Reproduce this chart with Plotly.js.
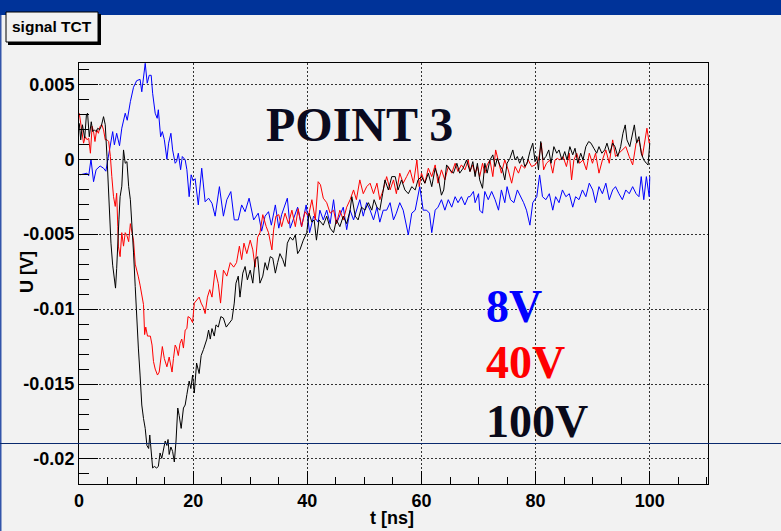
<!DOCTYPE html>
<html>
<head>
<meta charset="utf-8">
<script src="https://cdn.plot.ly/plotly-3.0.1.min.js"></script>
<style>html,body{margin:0;padding:0;background:#f2f2f2;overflow:hidden}#chart{width:781px;height:531px}</style>
</head>
<body>
<div id="chart"></div>
<script>
// ---- data (time in ns, signal in mV) ----
const t8 = [0.2,1.4,1.7,2.1,2.55,3.0,3.7,4.3,4.7,5.1,5.5,5.9,6.2,6.6,7.1,7.5,8.1,8.45,9.0,9.55,10.1,10.7,11.0,11.6,11.95,12.3,12.65,12.9,13.35,13.7,13.9,14.3,14.6,14.95,15.4,15.7,16.1,16.4,16.85,17.1,17.4,17.8,18.1,18.6,18.9,19.3,19.65,20.0,20.35,20.9,21.5,22.1,22.7,23.3,23.85,24.6,25.3,25.9,26.6,27.2,27.9,28.5,29.1,29.8,30.6,31.4,32.0,32.6,33.2,33.7,34.4,35.0,35.5,36.5,37.0,37.7,38.3,39.0,39.8,40.4,41.1,41.9,42.2,42.8,43.4,44.0,44.6,45.1,45.7,46.3,46.9,47.5,48.1,48.6,49.2,49.8,50.4,51.0,51.6,52.2,52.7,53.3,53.9,54.5,55.1,55.6,56.2,56.8,57.3,57.7,58.3,58.9,59.7,60.3,60.9,61.4,61.8,62.4,62.9,63.5,64.1,64.7,65.3,65.9,66.4,67.0,67.6,68.2,68.5,69.1,69.4,70.0,70.2,70.7,71.1,71.7,72.3,72.9,73.5,74.0,74.6,75.0,75.6,76.2,76.8,77.4,77.9,78.4,79.0,79.5,80.2,80.7,81.2,81.8,82.4,83.0,83.5,84.1,84.7,85.3,85.9,86.5,87.0,87.6,88.2,88.8,89.4,90.0,90.5,91.1,91.7,92.3,92.9,93.5,94.0,94.6,95.2,95.8,96.4,97.0,97.6,98.1,98.5,98.95,99.4,99.9,100.0];
const u8mV = [-1.04,-0.93,-1.1,0.0,-1.5,-0.7,-0.45,-0.6,-0.8,0.07,1.07,1.84,0.96,1.73,0.9,2.07,3.07,2.6,3.84,4.8,5.24,5.33,4.5,6.4,5.07,5.6,5.6,4.4,3.07,2.73,3.3,1.5,1.84,1.3,0.0,1.07,1.73,0.62,-0.27,-0.15,0.4,-0.7,0.18,-0.04,-0.7,-2.5,-1.04,-1.45,-1.3,-3.05,-0.6,-2.84,-2.6,-2.94,-3.8,-1.83,-3.8,-2.7,-2.16,-4.05,-4.05,-3.05,-3.5,-2.6,-4.05,-3.6,-4.8,-3.8,-3.5,-4.4,-3.05,-4.6,-3.7,-2.6,-4.6,-3.8,-3.2,-4.5,-3.05,-4.9,-3.8,-4.2,-3.4,-4.05,-3.4,-4.3,-2.7,-4.3,-3.7,-3.2,-4.7,-3.4,-4.05,-3.4,-2.7,-3.8,-2.9,-3.4,-4.05,-3.2,-4.2,-3.4,-3.4,-2.9,-4.05,-3.6,-2.9,-3.4,-4.3,-5.05,-3.6,-3.4,-1.83,-3.4,-3.4,-3.6,-4.9,-3.4,-3.2,-2.7,-3.4,-2.7,-3.2,-2.5,-2.9,-2.5,-3.05,-2.5,-2.5,-2.15,-2.9,-2.3,-3.4,-3.6,-2.15,-2.7,-2.15,-2.7,-3.4,-2.05,-2.9,-1.83,-2.7,-2.9,-2.05,-2.5,-2.9,-3.4,-4.4,-2.9,-2.5,-1.05,-2.5,-2.7,-2.3,-3.4,-2.5,-2.9,-2.05,-2.5,-2.3,-3.2,-2.5,-2.7,-2.05,-2.5,-1.6,-2.05,-2.9,-1.83,-2.3,-1.6,-2.7,-2.05,-1.83,-2.3,-2.7,-2.05,-2.3,-1.83,-2.3,-2.5,-1.16,-2.7,-1.16,-2.5,-1.16];

const t40 = [0.05,0.4,0.8,1.1,1.4,1.7,2.0,2.3,2.55,2.8,3.1,3.4,3.7,4.0,4.3,4.6,4.9,5.2,5.5,5.75,6.05,6.35,6.6,6.8,6.9,7.2,7.5,7.8,8.1,8.4,8.7,9.0,9.3,9.55,9.85,10.1,10.4,10.7,11.0,11.3,11.5,11.7,12.0,12.5,12.8,13.05,13.35,13.75,14.05,14.4,14.6,14.95,15.4,15.8,16.3,16.55,16.85,17.1,17.4,17.7,18.0,18.3,18.6,18.9,19.1,19.5,19.9,20.2,20.6,21.05,21.4,21.8,22.1,22.5,22.9,23.3,23.85,24.4,24.8,25.3,25.9,26.5,27.1,27.6,28.1,28.5,28.9,29.4,30.0,30.45,30.85,31.3,31.7,32.2,32.8,33.2,33.8,34.1,34.5,35.0,35.5,36.1,36.7,37.3,37.9,38.4,39.0,39.6,40.2,40.8,41.4,41.9,42.3,42.8,43.4,44.0,44.6,45.1,45.7,46.3,46.9,47.5,48.1,48.6,49.2,49.8,50.4,51.0,51.6,52.2,52.7,53.3,53.9,54.5,55.1,55.6,56.2,56.8,57.4,58.0,58.6,59.2,59.6,60.0,60.6,61.2,61.8,62.4,62.9,63.5,64.1,64.7,65.3,65.9,66.4,67.0,67.6,68.2,68.5,69.0,69.4,69.8,70.2,70.7,71.1,71.5,72.0,72.5,73.0,73.5,74.0,74.6,75.2,75.8,76.4,77.0,77.5,78.1,78.7,79.3,79.9,80.5,81.0,81.4,81.9,82.5,83.0,83.4,83.8,84.2,84.8,85.4,85.9,86.3,86.7,87.2,87.7,88.3,88.9,89.4,89.96,90.5,91.1,91.7,92.3,92.9,93.5,94.0,94.6,95.2,95.8,96.4,97.0,97.6,98.1,98.7,99.1,99.5,99.9,100.0];
const u40mV = [3.07,2.2,1.07,1.5,1.3,1.4,0.4,2.2,1.84,1.18,1.96,1.73,2.2,2.3,1.96,1.3,1.3,1.18,0.18,-1.16,-2.5,-3.15,-2.27,-4.5,-5.8,-6.5,-4.9,-5.8,-4.9,-5.1,-5.5,-4.3,-4.9,-5.4,-7.0,-7.5,-7.85,-8.4,-8.95,-9.7,-11.7,-11.2,-11.8,-11.8,-12.4,-13.5,-14.0,-14.4,-14.2,-13.3,-12.5,-13.3,-13.85,-13.2,-14.2,-13.3,-12.4,-12.6,-13.1,-12.3,-12.0,-12.6,-11.4,-11.3,-10.5,-10.6,-10.9,-9.6,-9.4,-9.2,-9.6,-9.9,-10.3,-9.2,-8.7,-9.2,-7.4,-8.3,-9.6,-7.4,-7.8,-6.9,-7.2,-6.9,-5.8,-6.7,-5.6,-6.3,-5.4,-6.05,-7.2,-5.2,-4.9,-3.7,-4.5,-4.9,-6.05,-4.7,-3.8,-3.7,-4.5,-3.6,-4.3,-3.4,-4.5,-3.3,-4.5,-3.5,-3.8,-2.7,-4.05,-1.5,-1.7,-2.6,-2.9,-3.6,-3.4,-4.3,-3.4,-4.05,-3.2,-2.7,-2.05,-2.7,-1.38,-2.3,-1.83,-1.6,-2.3,-1.6,-2.7,-2.05,-1.16,-2.05,-1.38,-2.3,-0.93,-1.6,-1.16,-0.71,-1.6,-0.05,-1.83,-0.93,-1.6,-0.6,-1.16,-0.38,-1.6,-0.71,-1.38,-0.49,-0.93,-0.27,-0.82,-0.38,-0.71,-0.05,-0.82,-0.38,-0.93,-0.49,-1.16,-0.27,-0.93,-0.38,-0.05,-1.16,0.62,-0.27,-0.93,-0.05,-0.71,-1.6,-0.49,-0.93,-0.38,-0.6,-0.05,-0.49,-0.38,-0.05,1.07,-0.71,-0.27,-0.05,-0.93,-0.05,0.06,-0.05,0.18,-0.49,0.4,-1.38,-0.05,0.4,-0.27,-0.05,-0.71,0.4,-0.27,0.4,-0.93,-0.05,0.62,-0.27,1.29,0.18,0.4,0.62,0.84,0.18,-0.38,1.07,1.29,0.18,1.29,2.07,1.07,1.18];

const t100 = [0.05,0.3,0.6,1.0,1.3,1.5,1.8,2.15,2.4,2.7,3.0,3.3,3.6,3.9,4.3,4.6,4.9,5.2,5.35,5.6,5.9,6.2,6.4,6.6,6.8,7.0,7.2,7.5,7.8,8.1,8.4,8.7,9.0,9.3,9.55,9.85,10.1,10.4,10.7,11.0,11.3,11.6,11.9,12.2,12.4,12.65,12.9,13.2,13.6,13.9,14.2,14.5,14.8,15.1,15.4,15.6,15.8,16.1,16.4,16.7,17.0,17.3,17.55,17.9,18.3,18.6,18.9,19.3,19.6,19.9,20.2,20.6,21.05,21.4,21.8,22.4,22.7,23.0,23.3,23.7,24.0,24.4,24.85,25.3,25.8,26.4,26.8,27.2,27.5,27.9,28.2,28.7,29.1,29.5,30.0,30.45,30.85,31.3,31.7,32.2,32.6,33.0,33.5,33.95,34.4,34.8,35.2,35.7,36.1,36.5,37.0,37.45,37.9,38.3,38.7,39.3,39.9,40.3,40.8,41.2,41.6,42.05,42.5,42.8,43.4,44.0,44.6,45.1,45.7,46.3,46.9,47.5,47.8,48.4,48.9,49.5,50.1,50.7,51.3,51.7,52.2,52.7,53.2,53.6,54.2,54.8,55.4,55.9,56.5,57.1,57.7,58.3,58.9,59.4,60.0,60.6,61.2,61.8,62.4,62.9,63.5,63.9,64.4,65.0,65.6,66.2,66.7,67.3,67.9,68.5,69.0,69.4,69.8,70.2,70.7,71.1,71.5,72.0,72.5,72.9,73.3,73.7,74.2,74.6,75.0,75.5,76.0,76.4,76.8,77.2,77.7,78.1,78.5,79.0,79.5,79.9,80.2,80.5,80.9,81.3,81.8,82.3,82.7,83.2,83.7,84.1,84.6,85.1,85.5,86.0,86.5,86.9,87.4,87.9,88.3,88.8,89.3,89.7,90.2,90.7,91.1,91.6,92.1,92.5,93.0,93.5,93.9,94.4,94.9,95.3,95.7,96.0,96.5,97.0,97.3,97.7,98.1,98.5,98.95,99.4,99.7,100.0];
const u100mV = [2.4,1.29,2.3,1.4,2.96,3.07,1.5,2.5,1.84,1.96,1.84,2.07,1.96,2.2,2.84,2.3,0.18,-2.27,-4.05,-5.6,-7.07,-7.95,-8.6,-7.3,-6.0,-4.0,-2.5,-1.8,0.62,-0.27,-0.16,-1.82,-2.7,-4.4,-6.2,-8.5,-10.8,-12.6,-14.4,-16.4,-17.3,-17.96,-19.1,-19.3,-18.4,-19.7,-20.6,-20.5,-20.6,-20.5,-19.6,-19.96,-19.3,-18.8,-19.1,-18.7,-19.7,-19.2,-19.5,-20.2,-18.8,-16.6,-17.1,-17.96,-16.6,-16.4,-15.7,-14.8,-15.3,-14.4,-15.6,-13.6,-14.3,-13.1,-12.7,-12.0,-11.4,-12.0,-11.3,-11.8,-11.05,-11.2,-10.5,-10.6,-11.2,-10.9,-10.7,-9.6,-8.27,-7.8,-9.2,-7.6,-7.16,-8.05,-7.4,-8.27,-6.7,-6.5,-8.27,-7.8,-6.9,-7.4,-6.5,-6.6,-7.6,-6.9,-6.3,-6.7,-7.16,-5.6,-5.2,-5.4,-5.05,-6.3,-6.05,-5.4,-4.9,-3.6,-4.2,-4.05,-5.4,-4.05,-4.3,-4.4,-3.8,-4.6,-4.9,-4.05,-4.5,-3.8,-4.3,-3.4,-2.5,-3.8,-4.05,-3.2,-3.4,-2.9,-3.4,-2.7,-3.2,-3.4,-2.3,-1.38,-2.05,-1.16,-1.16,-2.05,-1.38,-2.05,-2.3,-1.83,-2.05,-1.38,-1.16,-1.6,-0.93,-1.83,-0.6,-1.16,-2.4,-2.05,-0.38,-0.71,-0.93,-0.27,-0.93,-0.6,-0.05,-0.82,-0.16,-1.16,-0.27,-1.38,-1.94,-0.27,-0.93,-0.05,0.29,-0.49,0.06,-0.38,-0.71,-1.38,-0.27,0.06,0.62,-0.05,0.18,-0.27,0.18,-0.49,-0.27,0.51,1.07,-0.16,0.18,-0.71,1.18,-0.05,0.18,0.62,-0.27,0.84,0.4,0.62,-0.05,0.51,-0.05,0.84,0.29,0.73,-0.27,0.4,-0.05,0.84,1.18,1.07,0.73,0.4,0.84,0.4,0.62,1.07,0.4,1.07,0.84,0.18,0.84,1.73,2.29,1.29,0.84,1.73,2.29,1.07,1.51,0.4,-0.05,-0.27,-0.38,1.07];

const xTickVals = [0, 20, 40, 60, 80, 100];
const xTickText = ['0', '20', '40', '60', '80', '100'];
const yTickVals = [0.005, 0, -0.005, -0.01, -0.015, -0.02];
const yTickText = ['0.005', '0', '-0.005', '-0.01', '-0.015', '-0.02'];
const seriesNames = ['8V', '40V', '100V'];
const seriesColors = ['#0000ff', '#ff0000', '#000000'];

// ---- figure ----
const toV = a => a.map(v => v / 1000);
const traces = [
  {x: t8, y: toV(u8mV), name: seriesNames[0], type: 'scatter', mode: 'lines', line: {color: seriesColors[0], width: 1}},
  {x: t40, y: toV(u40mV), name: seriesNames[1], type: 'scatter', mode: 'lines', line: {color: seriesColors[1], width: 1}},
  {x: t100, y: toV(u100mV), name: seriesNames[2], type: 'scatter', mode: 'lines', line: {color: seriesColors[2], width: 1}}
];

const W = 781, H = 531, L = 79, R = 73, T = 63, B = 47;
const pw = W - L - R, ph = H - T - B;
const px = p => (p - L) / pw;          // pixel x -> paper
const py = p => (H - B - p) / ph;      // pixel y -> paper

const labelFont = {family: 'Liberation Sans, Arial, Helvetica, sans-serif', size: 18, color: '#000', weight: 'bold'};
const serif = 'Liberation Serif, Times New Roman, serif';

const layout = {
  width: W, height: H,
  margin: {l: L, r: R, t: T, b: B, pad: 0},
  paper_bgcolor: '#f2f2f2', plot_bgcolor: '#f2f2f2',
  showlegend: false,
  xaxis: {
    range: [0, 110.2], tickmode: 'array', tickvals: xTickVals, ticktext: xTickText,
    ticks: 'inside', ticklen: 13, tickwidth: 1, tickcolor: '#000',
    minor: {dtick: 5, tick0: 0, ticks: 'inside', ticklen: 7, tickcolor: '#000', showgrid: false},
    showgrid: true, gridcolor: '#333', griddash: '1.5px,2.5px', gridwidth: 1,
    zeroline: false, showline: true, linecolor: '#000', linewidth: 1, mirror: true,
    tickfont: labelFont
  },
  yaxis: {
    range: [-0.02167, 0.00642], tickmode: 'array', tickvals: yTickVals, ticktext: yTickText,
    ticks: 'inside', ticklen: 19, tickwidth: 1, tickcolor: '#000',
    minor: {dtick: 0.001, tick0: 0, ticks: 'inside', ticklen: 10, tickcolor: '#000', showgrid: false},
    showgrid: true, gridcolor: '#333', griddash: '1.5px,2.5px', gridwidth: 1,
    zeroline: false, showline: true, linecolor: '#000', linewidth: 1, mirror: true,
    tickfont: labelFont
  },
  shapes: [
    {type: 'rect', xref: 'paper', yref: 'paper', x0: px(0), x1: px(W), y0: py(15), y1: py(0), fillcolor: '#003399', line: {width: 0}, layer: 'above'},
    {type: 'rect', xref: 'paper', yref: 'paper', x0: px(0), x1: px(1.5), y0: py(H), y1: py(15), fillcolor: '#3355aa', line: {width: 0}, layer: 'above'},
    {type: 'line', xref: 'paper', yref: 'paper', x0: px(0), x1: px(W), y0: py(443.5), y1: py(443.5), line: {color: '#0a2a6e', width: 1}, layer: 'above'},
    {type: 'rect', xref: 'paper', yref: 'paper', x0: px(8), x1: px(101), y0: py(45), y1: py(14), fillcolor: '#000', line: {width: 0}, layer: 'above'},
    {type: 'rect', xref: 'paper', yref: 'paper', x0: px(6), x1: px(98), y0: py(42), y1: py(12), fillcolor: '#f2f2f2', line: {color: '#000', width: 1}, layer: 'above'}
  ],
  annotations: [
    {xref: 'paper', yref: 'paper', x: px(52), y: py(27), text: 'signal TCT', showarrow: false, xanchor: 'center', yanchor: 'middle',
     font: {family: 'Liberation Sans, Arial, Helvetica, sans-serif', size: 15.5, color: '#000', weight: 'bold'}},
    {xref: 'paper', yref: 'paper', x: px(359), y: py(124), text: 'POINT 3', showarrow: false, xanchor: 'center', yanchor: 'middle',
     font: {family: serif, size: 48, color: '#0a0a1e', weight: 'bold'}},
    {xref: 'paper', yref: 'paper', x: px(484), y: py(306), text: seriesNames[0], showarrow: false, xanchor: 'left', yanchor: 'middle',
     font: {family: serif, size: 46, color: seriesColors[0], weight: 'bold'}},
    {xref: 'paper', yref: 'paper', x: px(484), y: py(363), text: seriesNames[1], showarrow: false, xanchor: 'left', yanchor: 'middle',
     font: {family: serif, size: 46, color: seriesColors[1], weight: 'bold'}},
    {xref: 'paper', yref: 'paper', x: px(484), y: py(421), text: seriesNames[2], showarrow: false, xanchor: 'left', yanchor: 'middle',
     font: {family: serif, size: 46, color: '#0a0a1a', weight: 'bold'}},
    {xref: 'paper', yref: 'paper', x: px(392), y: py(518), text: 't [ns]', showarrow: false, xanchor: 'center', yanchor: 'middle', font: labelFont},
    {xref: 'paper', yref: 'paper', x: px(27), y: py(272), text: 'U [V]', showarrow: false, xanchor: 'center', yanchor: 'middle', textangle: -90, font: labelFont}
  ]
};

Plotly.newPlot('chart', traces, layout, {displayModeBar: false, staticPlot: true});
</script>
</body>
</html>
